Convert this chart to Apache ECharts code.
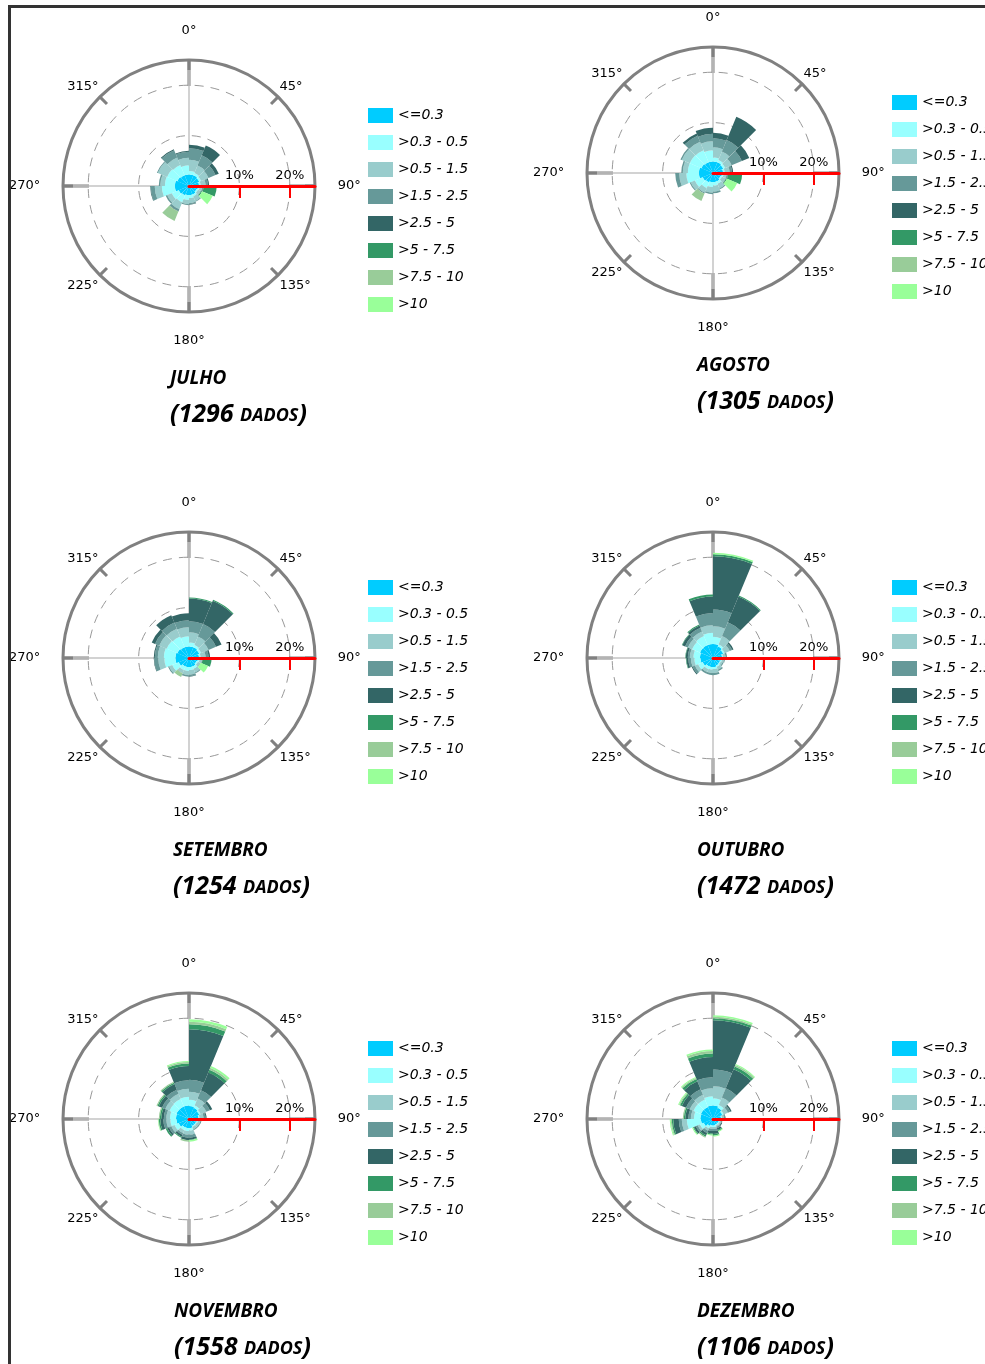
<!DOCTYPE html>
<html>
<head>
<meta charset="utf-8">
<script src="https://cdn.jsdelivr.net/npm/echarts@6/dist/echarts.min.js"></script>
<style>
  html, body { margin: 0; padding: 0; background: #fff; overflow: hidden; width: 985px; height: 1364px; }
  #chart { position: absolute; left: 0; top: 0; width: 1060px; height: 1364px; }
  #frame { position: absolute; left: 8px; top: 5px; width: 990px; height: 1370px;
           border-left: 3px solid #333; border-top: 3px solid #333; pointer-events: none; }
</style>
</head>
<body>
<div id="chart"></div>
<div id="frame"></div>
<script>
// classes de velocidade (legenda) e cores
var classes = ['<=0.3', '>0.3 - 0.5', '>0.5 - 1.5', '>1.5 - 2.5', '>2.5 - 5', '>5 - 7.5', '>7.5 - 10', '>10'];
var colors = ['#00ccff', '#99ffff', '#99cccc', '#669999', '#336666', '#339966', '#99cc99', '#99ff99'];
// 16 setores de 22.5 graus, a partir do norte
var directions = ['N', 'NNE', 'NE', 'ENE', 'E', 'ESE', 'SE', 'SSE', 'S', 'SSW', 'SW', 'WSW', 'W', 'WNW', 'NW', 'NNW'];

var monthNames = ['JULHO', 'AGOSTO', 'SETEMBRO', 'OUTUBRO', 'NOVEMBRO', 'DEZEMBRO'];
var monthCounts = [1296, 1305, 1254, 1472, 1558, 1106];

// % por setor (linhas) e classe (colunas)
var julho = [
  [2.3, 0.7, 2.2, 2.3, 0.7, 0, 0, 0],
  [2.3, 0.5, 1.6, 2.2, 2.1, 0, 0, 0],
  [2.2, 0.4, 1.6, 1.5, 0.7, 0, 0, 0],
  [2.0, 0.3, 1.0, 0.5, 0.2, 0, 0, 0],
  [1.8, 0.3, 0.5, 0.2, 0.1, 2.6, 0, 0],
  [1.6, 0.3, 0.6, 0.1, 0, 0.2, 0, 2.3],
  [1.8, 0.4, 1.0, 0.2, 0, 0, 0, 0],
  [1.8, 0.6, 1.0, 0.2, 0.1, 0, 0, 0],
  [1.8, 1.0, 0.8, 0.2, 0, 0, 0, 0],
  [2.0, 1.5, 1.5, 0.4, 0.1, 0, 2.0, 0],
  [2.2, 1.5, 1.0, 0.3, 0, 0, 0, 0],
  [2.8, 2.6, 1.4, 0.8, 0.1, 0, 0, 0],
  [2.8, 2.0, 0.9, 0.3, 0, 0, 0, 0],
  [2.5, 2.2, 2.0, 0.2, 0, 0, 0, 0],
  [2.3, 2.2, 1.6, 1.6, 0.2, 0, 0, 0],
  [2.3, 1.8, 1.5, 1.2, 0.2, 0, 0, 0]
];
var agosto = [
  [2.3, 0.8, 2.0, 1.8, 1.1, 0, 0, 0],
  [2.3, 0.5, 1.8, 2.5, 5.0, 0, 0, 0],
  [2.2, 0.4, 1.4, 2.2, 1.6, 0, 0, 0],
  [2.0, 0.3, 1.0, 0.5, 0.2, 0, 0, 0],
  [1.8, 0.3, 0.6, 0.2, 0.1, 2.8, 0, 0],
  [1.6, 0.3, 0.8, 0.1, 0, 0.2, 0, 2.2],
  [1.8, 0.5, 1.0, 0.2, 0, 0, 0, 0],
  [1.8, 0.7, 1.2, 0.3, 0, 0, 0, 0],
  [1.8, 1.0, 1.1, 0.3, 0, 0, 0, 0],
  [2.0, 1.2, 1.0, 0.2, 0, 0, 1.6, 0],
  [2.2, 1.7, 0.9, 0.2, 0, 0, 0, 0],
  [2.8, 2.5, 1.4, 0.8, 0, 0, 0, 0],
  [2.8, 2.2, 1.0, 0.3, 0, 0, 0, 0],
  [2.5, 2.5, 1.7, 0.3, 0, 0, 0, 0],
  [2.3, 2.6, 1.8, 1.3, 0.5, 0, 0, 0],
  [2.3, 2.2, 1.8, 1.5, 1.2, 0, 0, 0]
];
var setembro = [
  [2.3, 0.8, 2.0, 2.2, 4.5, 0.2, 0, 0],
  [2.3, 0.5, 1.8, 2.7, 5.0, 0.2, 0, 0],
  [2.2, 0.4, 1.6, 1.6, 1.2, 0, 0, 0],
  [2.0, 0.3, 1.0, 0.6, 0.3, 0, 0, 0],
  [1.8, 0.3, 0.5, 0.1, 0, 1.8, 0, 0],
  [1.6, 0.3, 0.5, 0.1, 0, 0, 0, 1.6],
  [1.8, 0.5, 0.8, 0.2, 0, 0, 0, 0],
  [1.8, 0.6, 0.9, 0.3, 0.1, 0, 0, 0],
  [1.8, 0.8, 0.8, 0.3, 0, 0, 0, 0],
  [1.8, 0.8, 0.6, 0.1, 0, 0, 0.8, 0],
  [2.2, 1.4, 0.7, 0.2, 0, 0, 0, 0],
  [2.7, 2.2, 1.2, 0.8, 0.1, 0, 0, 0],
  [2.7, 2.3, 1.2, 0.6, 0.2, 0, 0, 0],
  [2.5, 2.3, 1.6, 0.9, 0.7, 0, 0, 0],
  [2.3, 2.3, 1.7, 1.3, 1.6, 0, 0, 0],
  [2.3, 2.0, 1.8, 1.4, 1.4, 0, 0, 0]
];
var outubro = [
  [2.8, 1.4, 2.1, 3.3, 10.6, 0.4, 0, 0.3],
  [2.5, 0.4, 1.8, 3.0, 5.5, 0.2, 0, 0],
  [2.2, 0.3, 1.1, 0.5, 0.3, 0, 0, 0],
  [1.8, 0.2, 0.5, 0.3, 0, 0, 0, 0],
  [1.6, 0.2, 0.4, 0.2, 0, 0, 0, 0],
  [1.5, 0.2, 0.4, 0.2, 0, 0, 0, 0],
  [1.6, 0.3, 0.6, 0.3, 0, 0, 0, 0],
  [1.8, 0.4, 0.8, 0.4, 0, 0, 0, 0],
  [1.8, 0.5, 0.7, 0.4, 0, 0, 0, 0],
  [1.8, 0.6, 0.6, 0.4, 0, 0, 0, 0],
  [2.2, 1.0, 0.7, 0.5, 0.2, 0, 0, 0],
  [2.5, 1.2, 0.7, 0.5, 0.4, 0.1, 0, 0],
  [2.6, 1.3, 0.7, 0.4, 0.4, 0.1, 0, 0],
  [2.8, 1.7, 0.9, 0.6, 0.6, 0.1, 0, 0],
  [2.8, 1.9, 1.0, 0.8, 0.5, 0.2, 0, 0],
  [2.8, 2.2, 1.5, 2.4, 3.3, 0.4, 0, 0]
];
var novembro = [
  [2.6, 1.2, 1.6, 2.4, 10.0, 1.0, 0.5, 0.5],
  [2.4, 0.5, 1.5, 1.8, 3.8, 0.6, 0.4, 0.4],
  [2.2, 0.3, 1.2, 0.8, 0.5, 0, 0, 0],
  [1.9, 0.2, 0.8, 0.4, 0.2, 0, 0, 0],
  [1.6, 0.2, 0.5, 0.2, 0, 0, 0, 0],
  [1.5, 0.2, 0.5, 0.2, 0, 0, 0, 0],
  [1.5, 0.2, 0.5, 0.2, 0, 0, 0, 0],
  [1.8, 0.5, 0.8, 0.6, 0.4, 0.1, 0, 0.3],
  [1.8, 0.6, 0.7, 0.6, 0.5, 0, 0.3, 0],
  [1.8, 0.6, 0.6, 0.4, 0.4, 0.2, 0, 0],
  [2.2, 0.9, 0.7, 0.5, 0.4, 0.3, 0, 0],
  [2.5, 1.2, 0.8, 0.6, 0.6, 0.3, 0.1, 0.1],
  [2.6, 1.2, 0.7, 0.5, 0.5, 0.3, 0.2, 0],
  [2.7, 1.5, 0.9, 0.7, 0.7, 0.3, 0.2, 0],
  [2.7, 1.6, 1.1, 0.9, 1.2, 0.3, 0.2, 0],
  [2.7, 1.7, 1.6, 1.7, 2.8, 0.5, 0.3, 0.2]
];
var dezembro = [
  [2.7, 1.4, 2.4, 3.3, 9.8, 0.4, 0.3, 0.3],
  [2.4, 0.6, 1.6, 2.0, 4.1, 0.6, 0.3, 0.2],
  [2.0, 0.3, 0.9, 0.5, 0.3, 0, 0, 0],
  [1.6, 0.2, 0.4, 0.2, 0.1, 0, 0, 0],
  [1.3, 0.1, 0.3, 0.2, 0, 0, 0, 0],
  [1.2, 0.2, 0.3, 0.1, 0.2, 0, 0, 0],
  [1.2, 0.2, 0.3, 0.3, 0.4, 0.2, 0, 0.2],
  [1.3, 0.3, 0.4, 0.4, 0.6, 0.3, 0, 0.2],
  [1.3, 0.3, 0.4, 0.4, 0.5, 0.2, 0, 0.2],
  [1.5, 0.5, 0.5, 0.5, 0.5, 0.3, 0.2, 0],
  [2.0, 0.8, 0.5, 0.4, 0.4, 0.2, 0, 0.2],
  [2.4, 2.8, 1.0, 0.6, 1.1, 0.3, 0.2, 0.2],
  [2.5, 1.3, 0.6, 0.5, 0.6, 0.3, 0.2, 0],
  [2.6, 1.6, 0.8, 0.8, 0.9, 0.4, 0.2, 0.2],
  [2.6, 1.6, 1.0, 1.2, 1.7, 0.5, 0.2, 0.2],
  [2.7, 1.8, 1.6, 2.2, 4.0, 0.7, 0.5, 0.3]
];
var monthData = [julho, agosto, setembro, outubro, novembro, dezembro];

// layout de cada painel
var centers = [[189, 186], [713, 173], [189, 658], [713, 658], [189, 1119], [713, 1119]];
var legendPos = [[368, 108], [892, 95], [368, 580], [892, 580], [368, 1041], [892, 1041]];
var titlePos = [[170, 369], [697, 356], [173, 841], [697, 841], [174, 1302], [697, 1302]];

var mychart = echarts.init(document.getElementById('chart'));

var option = {
  animation: false,
  backgroundColor: '#fff',
  polar: [],
  angleAxis: [],
  radiusAxis: [],
  legend: [],
  title: [],
  series: []
};

function angleLabel(v) {
  if (v >= 360) return '';
  var d = (v + 90) % 360;
  if (d === 0) return '0°\n';
  if (d === 180) return '\n180°';
  if (d === 90) return '     90°';
  if (d === 270) return '270°     ';
  return d + '°';
}

monthData.forEach(function(rows, p) {
  var c = centers[p];
  var pi = 2 * p;
  // polar das barras
  option.polar.push({ center: c, radius: 126 });
  // polar da decoracao (eixo vermelho e rotulos)
  option.polar.push({ center: c, radius: 126 });

  option.angleAxis.push({
    polarIndex: pi,
    type: 'category',
    data: directions,
    startAngle: 90,
    clockwise: true,
    boundaryGap: true,
    axisLine: { show: false },
    axisLabel: { show: false },
    axisTick: { show: true, interval: 3, inside: true, length: 26, lineStyle: { color: '#808080', width: 3 } },
    splitLine: { show: true, interval: 3, lineStyle: { color: '#c4c4c4', width: 1.5 } }
  });
  option.radiusAxis.push({
    polarIndex: pi,
    type: 'value',
    min: 0, max: 25, interval: 10,
    axisLine: { show: false },
    axisTick: { show: false },
    axisLabel: { show: false },
    splitLine: { show: true, lineStyle: { color: '#999', width: 1, type: [9, 7] } }
  });

  option.angleAxis.push({
    polarIndex: pi + 1,
    type: 'value',
    min: 0, max: 360, interval: 45,
    startAngle: 0,
    clockwise: true,
    z: 5,
    axisLine: { lineStyle: { color: '#808080', width: 3 } },
    axisTick: { show: true, inside: true, length: 10, lineStyle: { color: '#808080', width: 3 } },
    splitLine: { show: false },
    axisLabel: {
      margin: 2, lineHeight: 18, fontSize: 13, color: '#000',
      fontFamily: 'DejaVu Sans', formatter: angleLabel
    }
  });
  option.radiusAxis.push({
    polarIndex: pi + 1,
    type: 'value',
    min: 0, max: 25, interval: 10,
    z: 10,
    axisLine: { lineStyle: { color: '#ff0000', width: 3 } },
    axisTick: { show: true, length: -12, customValues: [10, 20], lineStyle: { color: '#ff0000', width: 2 } },
    axisLabel: { customValues: [10, 20], formatter: '{value}%', margin: 4, fontSize: 13, color: '#000', fontFamily: 'DejaVu Sans' },
    splitLine: { show: false }
  });

  classes.forEach(function(name, k) {
    option.series.push({
      name: name,
      type: 'bar',
      coordinateSystem: 'polar',
      polarIndex: pi,
      stack: 'rosa' + p,
      barCategoryGap: '0%',
      itemStyle: { color: colors[k] },
      data: rows.map(function(r) { return r[k]; })
    });
  });

  option.legend.push({
    left: legendPos[p][0],
    top: legendPos[p][1],
    padding: 0,
    orient: 'vertical',
    icon: 'rect',
    itemWidth: 25,
    itemHeight: 15,
    itemGap: 12,
    data: classes,
    textStyle: { fontFamily: 'DejaVu Sans', fontStyle: 'italic', fontSize: 14, color: '#000', overflow: 'none' }
  });

  option.title.push({
    left: titlePos[p][0],
    top: titlePos[p][1],
    padding: 0,
    text: monthNames[p],
    textStyle: { fontFamily: 'Open Sans', fontStyle: 'italic', fontWeight: 'bold', fontSize: 19, color: '#000' }
  });
  option.title.push({
    left: titlePos[p][0],
    top: titlePos[p][1] + 33,
    padding: 0,
    text: '{a|(' + monthCounts[p] + ' }{b|DADOS}{a|)}',
    textStyle: {
      rich: {
        a: { fontFamily: 'Open Sans', fontStyle: 'italic', fontWeight: 'bold', fontSize: 25, color: '#000' },
        b: { fontFamily: 'Open Sans', fontStyle: 'italic', fontWeight: 'bold', fontSize: 18, color: '#000', padding: [3, 0, 0, 0] }
      }
    }
  });
});

mychart.setOption(option);
</script>
</body>
</html>
